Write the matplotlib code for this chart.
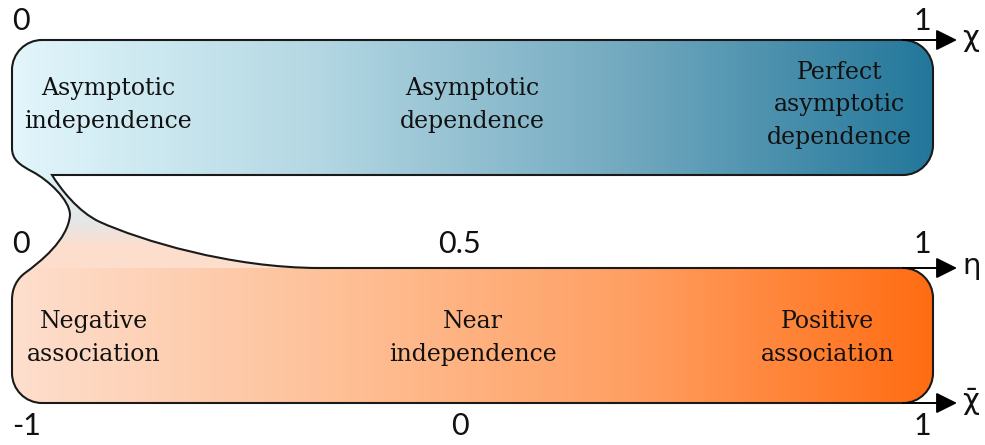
import numpy as np
import matplotlib
matplotlib.use("Agg")
import matplotlib.pyplot as plt
from matplotlib.path import Path
from matplotlib.patches import PathPatch
from matplotlib.colors import LinearSegmentedColormap, to_rgb

# --- content ---------------------------------------------------------------
chi_ticks = [0, 1]
eta_ticks = [0, 0.5, 1]
chibar_ticks = [-1, 0, 1]
chi_labels = ["0", "1"]
eta_labels = ["0", "0.5", "1"]
chibar_labels = ["-1", "0", "1"]
top_regions = ["Asymptotic\nindependence", "Asymptotic\ndependence",
               "Perfect\nasymptotic\ndependence"]
bottom_regions = ["Negative\nassociation", "Near\nindependence",
                  "Positive\nassociation"]
axis_names = ["χ", "η", "χ\u0304"]

blue_stops = ["#e2f6fb", "#b3d7e3", "#72a9bf", "#23779b"]
orange_stops = ["#fddecd", "#fec29a", "#ffa064", "#ff6c12"]

# --- geometry (pixel space) --------------------------------------------------
W, H = 985, 445
X0, X1 = 12, 933          # box left / right
Y0, Y1 = 40, 175          # top box
Y2, Y3 = 268, 403         # bottom box
R = 30
K = 0.5523

fig = plt.figure(figsize=(W / 100, H / 100), dpi=100)
ax = fig.add_axes([0, 0, 1, 1])
ax.set_xlim(0, W)
ax.set_ylim(H, 0)
ax.axis("off")


def corner(p_from, p_to, horiz_first):
    (xa, ya), (xb, yb) = p_from, p_to
    if horiz_first:
        c1 = (xa + K * (xb - xa), ya)
        c2 = (xb, yb - K * (yb - ya))
    else:
        c1 = (xa, ya + K * (yb - ya))
        c2 = (xb - K * (xb - xa), yb)
    return [c1, c2, p_to], [Path.CURVE4] * 3


verts = [(X0, Y0 + R)]
codes = [Path.MOVETO]


def add(v, c):
    verts.extend(v)
    codes.extend(c)


add(*corner((X0, Y0 + R), (X0 + R, Y0), False))
add([(X1 - R, Y0)], [Path.LINETO])
add(*corner((X1 - R, Y0), (X1, Y0 + R), True))
add([(X1, Y1 - R)], [Path.LINETO])
add(*corner((X1, Y1 - R), (X1 - R, Y1), False))
add([(52, Y1)], [Path.LINETO])
# inner edge of the neck
add([(60, 188), (78, 212), (100, 222)], [Path.CURVE4] * 3)
add([(140, 240), (230, Y2), (320, Y2)], [Path.CURVE4] * 3)
add([(X1 - R, Y2)], [Path.LINETO])
add(*corner((X1 - R, Y2), (X1, Y2 + R), True))
add([(X1, Y3 - R)], [Path.LINETO])
add(*corner((X1, Y3 - R), (X1 - R, Y3), False))
add([(X0 + R, Y3)], [Path.LINETO])
add(*corner((X0 + R, Y3), (X0, Y3 - R), True))
add([(X0, 300)], [Path.LINETO])
# outer edge of the neck
add([(12, 288), (17, 279), (25, 273)], [Path.CURVE4] * 3)
add([(40, 262), (68, 240), (70, 215)], [Path.CURVE4] * 3)
add([(70, 200), (48, 180), (33, 172)], [Path.CURVE4] * 3)
add([(20, 165), (12, 160), (12, 148)], [Path.CURVE4] * 3)
add([(X0, Y0 + R)], [Path.CLOSEPOLY])
shape = Path(verts, codes)

# --- gradient fill -----------------------------------------------------------
blue = LinearSegmentedColormap.from_list("blue", blue_stops)
orange = LinearSegmentedColormap.from_list("orange", orange_stops)
xx = np.clip((np.arange(W) - X0) / (X1 - X0), 0, 1)
img = np.ones((H, W, 3))
img[: Y1 + 3] = blue(xx)[:, :3][None, :, :]
img[Y2:] = orange(xx)[:, :3][None, :, :]
neck_top = np.array(to_rgb("#dcf1f6"))
neck_mid = np.array(to_rgb("#e6e6e6"))
neck_bot = np.array(to_rgb(orange_stops[0]))
for y in range(Y1 + 3, Y2):
    if y < 222:
        t = (y - Y1) / (222 - Y1)
        c = neck_top * (1 - t) + neck_mid * t
    else:
        t = min((y - 222) / 25, 1)
        c = neck_mid * (1 - t) + neck_bot * t
    img[y] = c
im = ax.imshow(img, extent=(0, W, H, 0), interpolation="bilinear", zorder=1)
im.set_clip_path(PathPatch(shape, transform=ax.transData))

ax.add_patch(PathPatch(shape, facecolor="none", edgecolor="#1a1a1a",
                       lw=1.5, zorder=3))

# --- axis arrows -------------------------------------------------------------
num_font = dict(family=["Lato", "DejaVu Sans"], fontsize=22, color="#111111")
for y, name in zip([Y0, Y2, Y3], axis_names):
    ax.annotate("", xy=(957, y), xytext=(X1 - R, y),
                arrowprops=dict(arrowstyle="-|>,head_length=0.8,head_width=0.4",
                                mutation_scale=16, lw=1.4, color="black",
                                shrinkA=0, shrinkB=0), zorder=4)
    ax.text(962, y - 2, name, ha="left", va="center",
            family=["DejaVu Sans"], fontsize=21, color="#111111")


def xpos(u):
    return X0 + u * (X1 - 2 - X0)


def put_ticks(vals, labels, u_of, y):
    for v, lab in zip(vals, labels):
        u = u_of(v)
        ha = "left" if u == 0 else ("right" if u == 1 else "center")
        ax.text(xpos(u) - (12 if u == 0.5 else 0), y, lab, ha=ha,
                va="center", **num_font)


put_ticks(chi_ticks, chi_labels, lambda v: v, 21)
put_ticks(eta_ticks, eta_labels, lambda v: v, 244)
put_ticks(chibar_ticks, chibar_labels, lambda v: (v + 1) / 2, 426)

# --- region labels -----------------------------------------------------------
lab_font = dict(family="DejaVu Serif", fontsize=17, color="#111111",
                linespacing=1.55, multialignment="center", va="center")
top_y, bot_y = 105, 338
ax.text(X0 + 12, top_y, top_regions[0], ha="left", **lab_font)
ax.text((X0 + X1) / 2, top_y, top_regions[1], ha="center", **lab_font)
ax.text(X1 - 21, top_y, top_regions[2], ha="right", **lab_font)
ax.text(X0 + 15, bot_y, bottom_regions[0], ha="left", **lab_font)
ax.text((X0 + X1) / 2, bot_y, bottom_regions[1], ha="center", **lab_font)
ax.text(X1 - 39, bot_y, bottom_regions[2], ha="right", **lab_font)

fig.savefig("out.png", dpi=100)
